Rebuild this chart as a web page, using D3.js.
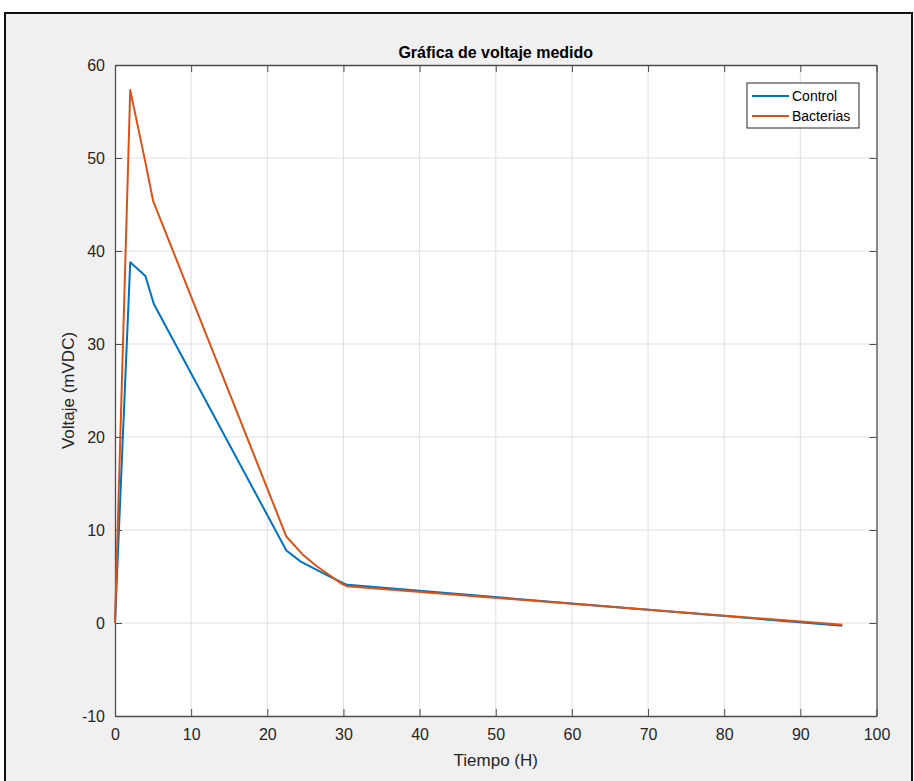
<html><head>
<meta charset="utf-8">
<script src="https://d3js.org/d3.v7.min.js"></script>
<style>
  body { margin: 0; background: #fff; }
  svg text { font-family: "Liberation Sans", Arial, sans-serif; }
</style>
</head>
<body>
<div id="chart"></div>
<script>

// data
var timeControl = [0, 2, 4, 5.1, 22.5, 24.4, 27, 29.9, 30.5, 95.5];
var voltControl = [0, 38.8, 37.3, 34.3, 7.8, 6.6, 5.5, 4.3, 4.1, -0.3];
var timeBact = [0, 2, 4, 5, 22.5, 24.6, 26.5, 29.8, 30.5, 95.5];
var voltBact = [0, 57.3, 49.5, 45.4, 9.3, 7.4, 6.1, 4.2, 3.95, -0.2];
var seriesNames = ["Control", "Bacterias"];
var xTicks = [0, 10, 20, 30, 40, 50, 60, 70, 80, 90, 100];
var yTicks = [-10, 0, 10, 20, 30, 40, 50, 60];

var W = 914, H = 781;
var margin = {top: 65, right: 914 - 876.5, bottom: 781 - 716, left: 115};
var width = W - margin.left - margin.right;
var height = H - margin.top - margin.bottom;

var svg = d3.select("#chart").append("svg")
    .attr("width", W)
    .attr("height", H);

// figure background + frame
svg.append("rect")
    .attr("x", 5).attr("y", 13)
    .attr("width", 907).attr("height", 780)
    .attr("fill", "#f0f0f0")
    .attr("stroke", "#111")
    .attr("stroke-width", 2);

var g = svg.append("g")
    .attr("transform", "translate(" + margin.left + "," + margin.top + ")");

var x = d3.scaleLinear().domain([0, 100]).range([0, width]);
var y = d3.scaleLinear().domain([-10, 60]).range([height, 0]);

g.append("rect")
    .attr("width", width).attr("height", height)
    .attr("fill", "#fff");

// grid
g.selectAll(".gx").data(xTicks.slice(1, -1)).enter().append("line")
    .attr("x1", function(d) { return x(d); })
    .attr("x2", function(d) { return x(d); })
    .attr("y1", 0).attr("y2", height)
    .attr("stroke", "#dfdfdf").attr("stroke-width", 1);
g.selectAll(".gy").data(yTicks.slice(1, -1)).enter().append("line")
    .attr("y1", function(d) { return y(d); })
    .attr("y2", function(d) { return y(d); })
    .attr("x1", 0).attr("x2", width)
    .attr("stroke", "#dfdfdf").attr("stroke-width", 1);

// axes, ticks pointing inward
var axisColor = "#4d4d4d";
var fmt = function(d) { return String(d); };
var xAxis = g.append("g")
    .attr("transform", "translate(0," + height + ")")
    .call(d3.axisBottom(x).tickValues(xTicks).tickFormat(fmt).tickSizeInner(-7).tickSizeOuter(0).tickPadding(10));
var xAxisTop = g.append("g")
    .call(d3.axisTop(x).tickValues(xTicks).tickSizeInner(-7).tickSizeOuter(0).tickFormat(""));
var yAxis = g.append("g")
    .call(d3.axisLeft(y).tickValues(yTicks).tickFormat(fmt).tickSizeInner(-7).tickSizeOuter(0).tickPadding(10));
var yAxisRight = g.append("g")
    .attr("transform", "translate(" + width + ",0)")
    .call(d3.axisRight(y).tickValues(yTicks).tickSizeInner(-7).tickSizeOuter(0).tickFormat(""));

[xAxis, xAxisTop, yAxis, yAxisRight].forEach(function(a) {
  a.select(".domain").attr("stroke", axisColor).attr("stroke-width", 1.3);
  a.selectAll(".tick line").attr("stroke", axisColor);
  a.selectAll("text")
    .attr("fill", "#262626")
    .style("font-size", "16px")
    .style("font-family", "'Liberation Sans', Arial, sans-serif");
});
xAxis.selectAll("text").attr("dy", "0.85em");

// lines
var line = d3.line()
    .x(function(d) { return x(d[0]); })
    .y(function(d) { return y(d[1]); });

var colors = ["#0072BD", "#D95319"];
var sets = [d3.zip(timeControl, voltControl), d3.zip(timeBact, voltBact)];

sets.forEach(function(s, i) {
  g.append("path")
    .datum(s)
    .attr("fill", "none")
    .attr("stroke", colors[i])
    .attr("stroke-width", 2)
    .attr("stroke-linejoin", "round")
    .attr("d", line);
});

// title and axis labels
svg.append("text")
    .attr("x", margin.left + width / 2)
    .attr("y", 58)
    .attr("text-anchor", "middle")
    .style("font-size", "16px")
    .style("font-weight", "bold")
    .attr("fill", "#000")
    .text("Gráfica de voltaje medido");

svg.append("text")
    .attr("x", margin.left + width / 2)
    .attr("y", 766)
    .attr("text-anchor", "middle")
    .style("font-size", "17px")
    .attr("fill", "#262626")
    .text("Tiempo (H)");

svg.append("text")
    .attr("transform", "translate(74," + (margin.top + height / 2) + ") rotate(-90)")
    .attr("text-anchor", "middle")
    .style("font-size", "17px")
    .attr("fill", "#262626")
    .text("Voltaje (mVDC)");

// legend
var leg = svg.append("g").attr("transform", "translate(747,83)");
leg.append("rect")
    .attr("width", 112).attr("height", 45)
    .attr("fill", "#fff")
    .attr("stroke", "#262626").attr("stroke-width", 1);
seriesNames.forEach(function(n, i) {
  var yy = 13 + i * 20;
  leg.append("line")
    .attr("x1", 5).attr("x2", 42)
    .attr("y1", yy).attr("y2", yy)
    .attr("stroke", colors[i]).attr("stroke-width", 2);
  leg.append("text")
    .attr("x", 45).attr("y", yy + 5)
    .style("font-size", "14px")
    .attr("fill", "#000")
    .text(n);
});

</script>
</body></html>
